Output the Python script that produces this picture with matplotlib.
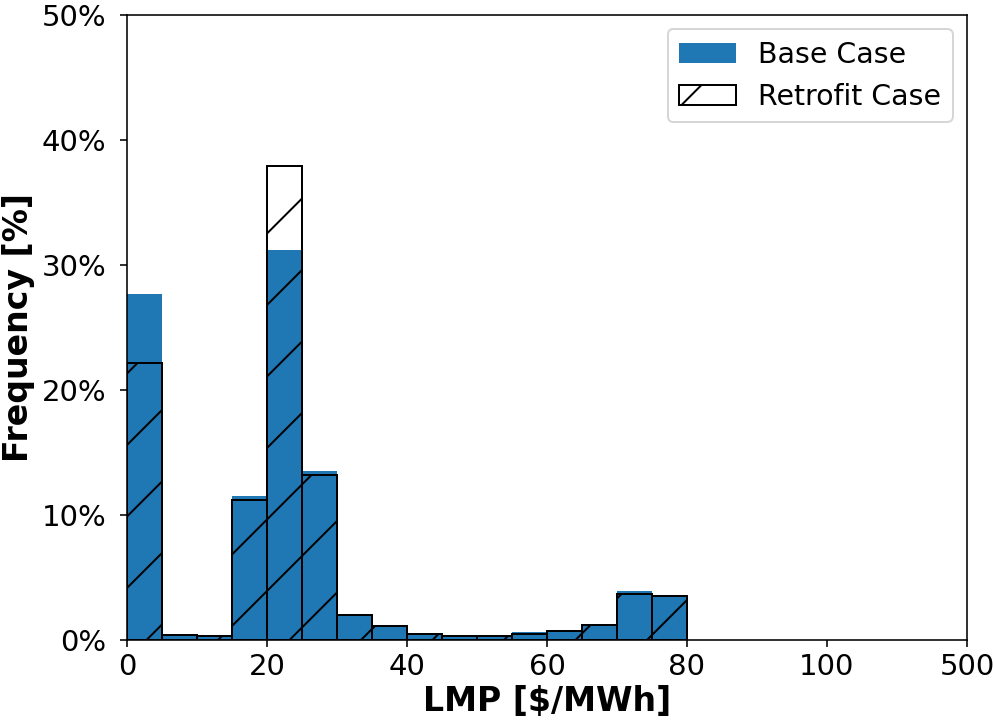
import numpy as np
import matplotlib
matplotlib.use('Agg')
import matplotlib.pyplot as plt
from matplotlib.patches import Patch
from matplotlib.ticker import PercentFormatter
from matplotlib.backend_bases import GraphicsContextBase

# weitere Schraffur (wie im Original)
_hatch_path = GraphicsContextBase.get_hatch_path
GraphicsContextBase.get_hatch_path = lambda self, density=6.0: _hatch_path(self, density=4.0)
plt.rcParams['hatch.linewidth'] = 1.0

# LMP-Klassen (Breite 5 $/MWh)
bin_left = [0, 5, 10, 15, 20, 25, 30, 35, 40, 45, 50, 55, 60, 65, 70, 75]
bin_width = 5

# Haeufigkeiten in %
base_case = [27.7, 0.5, 0.4, 11.5, 31.2, 13.5, 2.0, 1.2, 0.6, 0.4, 0.4, 0.65, 0.8, 1.2, 3.9, 3.6]
retrofit_case = [22.2, 0.4, 0.35, 11.2, 37.9, 13.2, 2.0, 1.15, 0.5, 0.35, 0.3, 0.5, 0.7, 1.2, 3.65, 3.5]

# x-Achse: letzte Marke steht fuer 500
tick_pos = [0, 20, 40, 60, 80, 100, 120]
tick_labels = ['0', '20', '40', '60', '80', '100', '500']

dpi = 143
fig = plt.figure(figsize=(993/dpi, 727/dpi), dpi=dpi)
ax = fig.add_axes([127/993, 1 - 640/727, 840/993, 625/727])

ax.bar(bin_left, base_case, width=bin_width, align='edge', color='#1f77b4')
ax.bar(bin_left, retrofit_case, width=bin_width, align='edge', fill=False,
       edgecolor='black', hatch='/', linewidth=1.0)

ax.set_xlim(0, 120)
ax.set_ylim(0, 50)
ax.set_xticks(tick_pos)
ax.set_xticklabels(tick_labels)
ax.set_yticks([0, 10, 20, 30, 40, 50])
ax.yaxis.set_major_formatter(PercentFormatter(decimals=0))
ax.tick_params(axis='x', labelsize=14.7, pad=3)
ax.tick_params(axis='y', labelsize=14.7, pad=7)

ax.set_xlabel('LMP [$/MWh]', fontsize=16.7, fontweight='bold', labelpad=2)
ax.set_ylabel('Frequency [%]', fontsize=16.7, fontweight='bold', labelpad=3)

handles = [Patch(facecolor='#1f77b4', label='Base Case'),
           Patch(facecolor='white', edgecolor='black', hatch='/', label='Retrofit Case')]
ax.legend(handles=handles, loc='upper right', fontsize=14.3)

fig.savefig('out.png', dpi=dpi)
